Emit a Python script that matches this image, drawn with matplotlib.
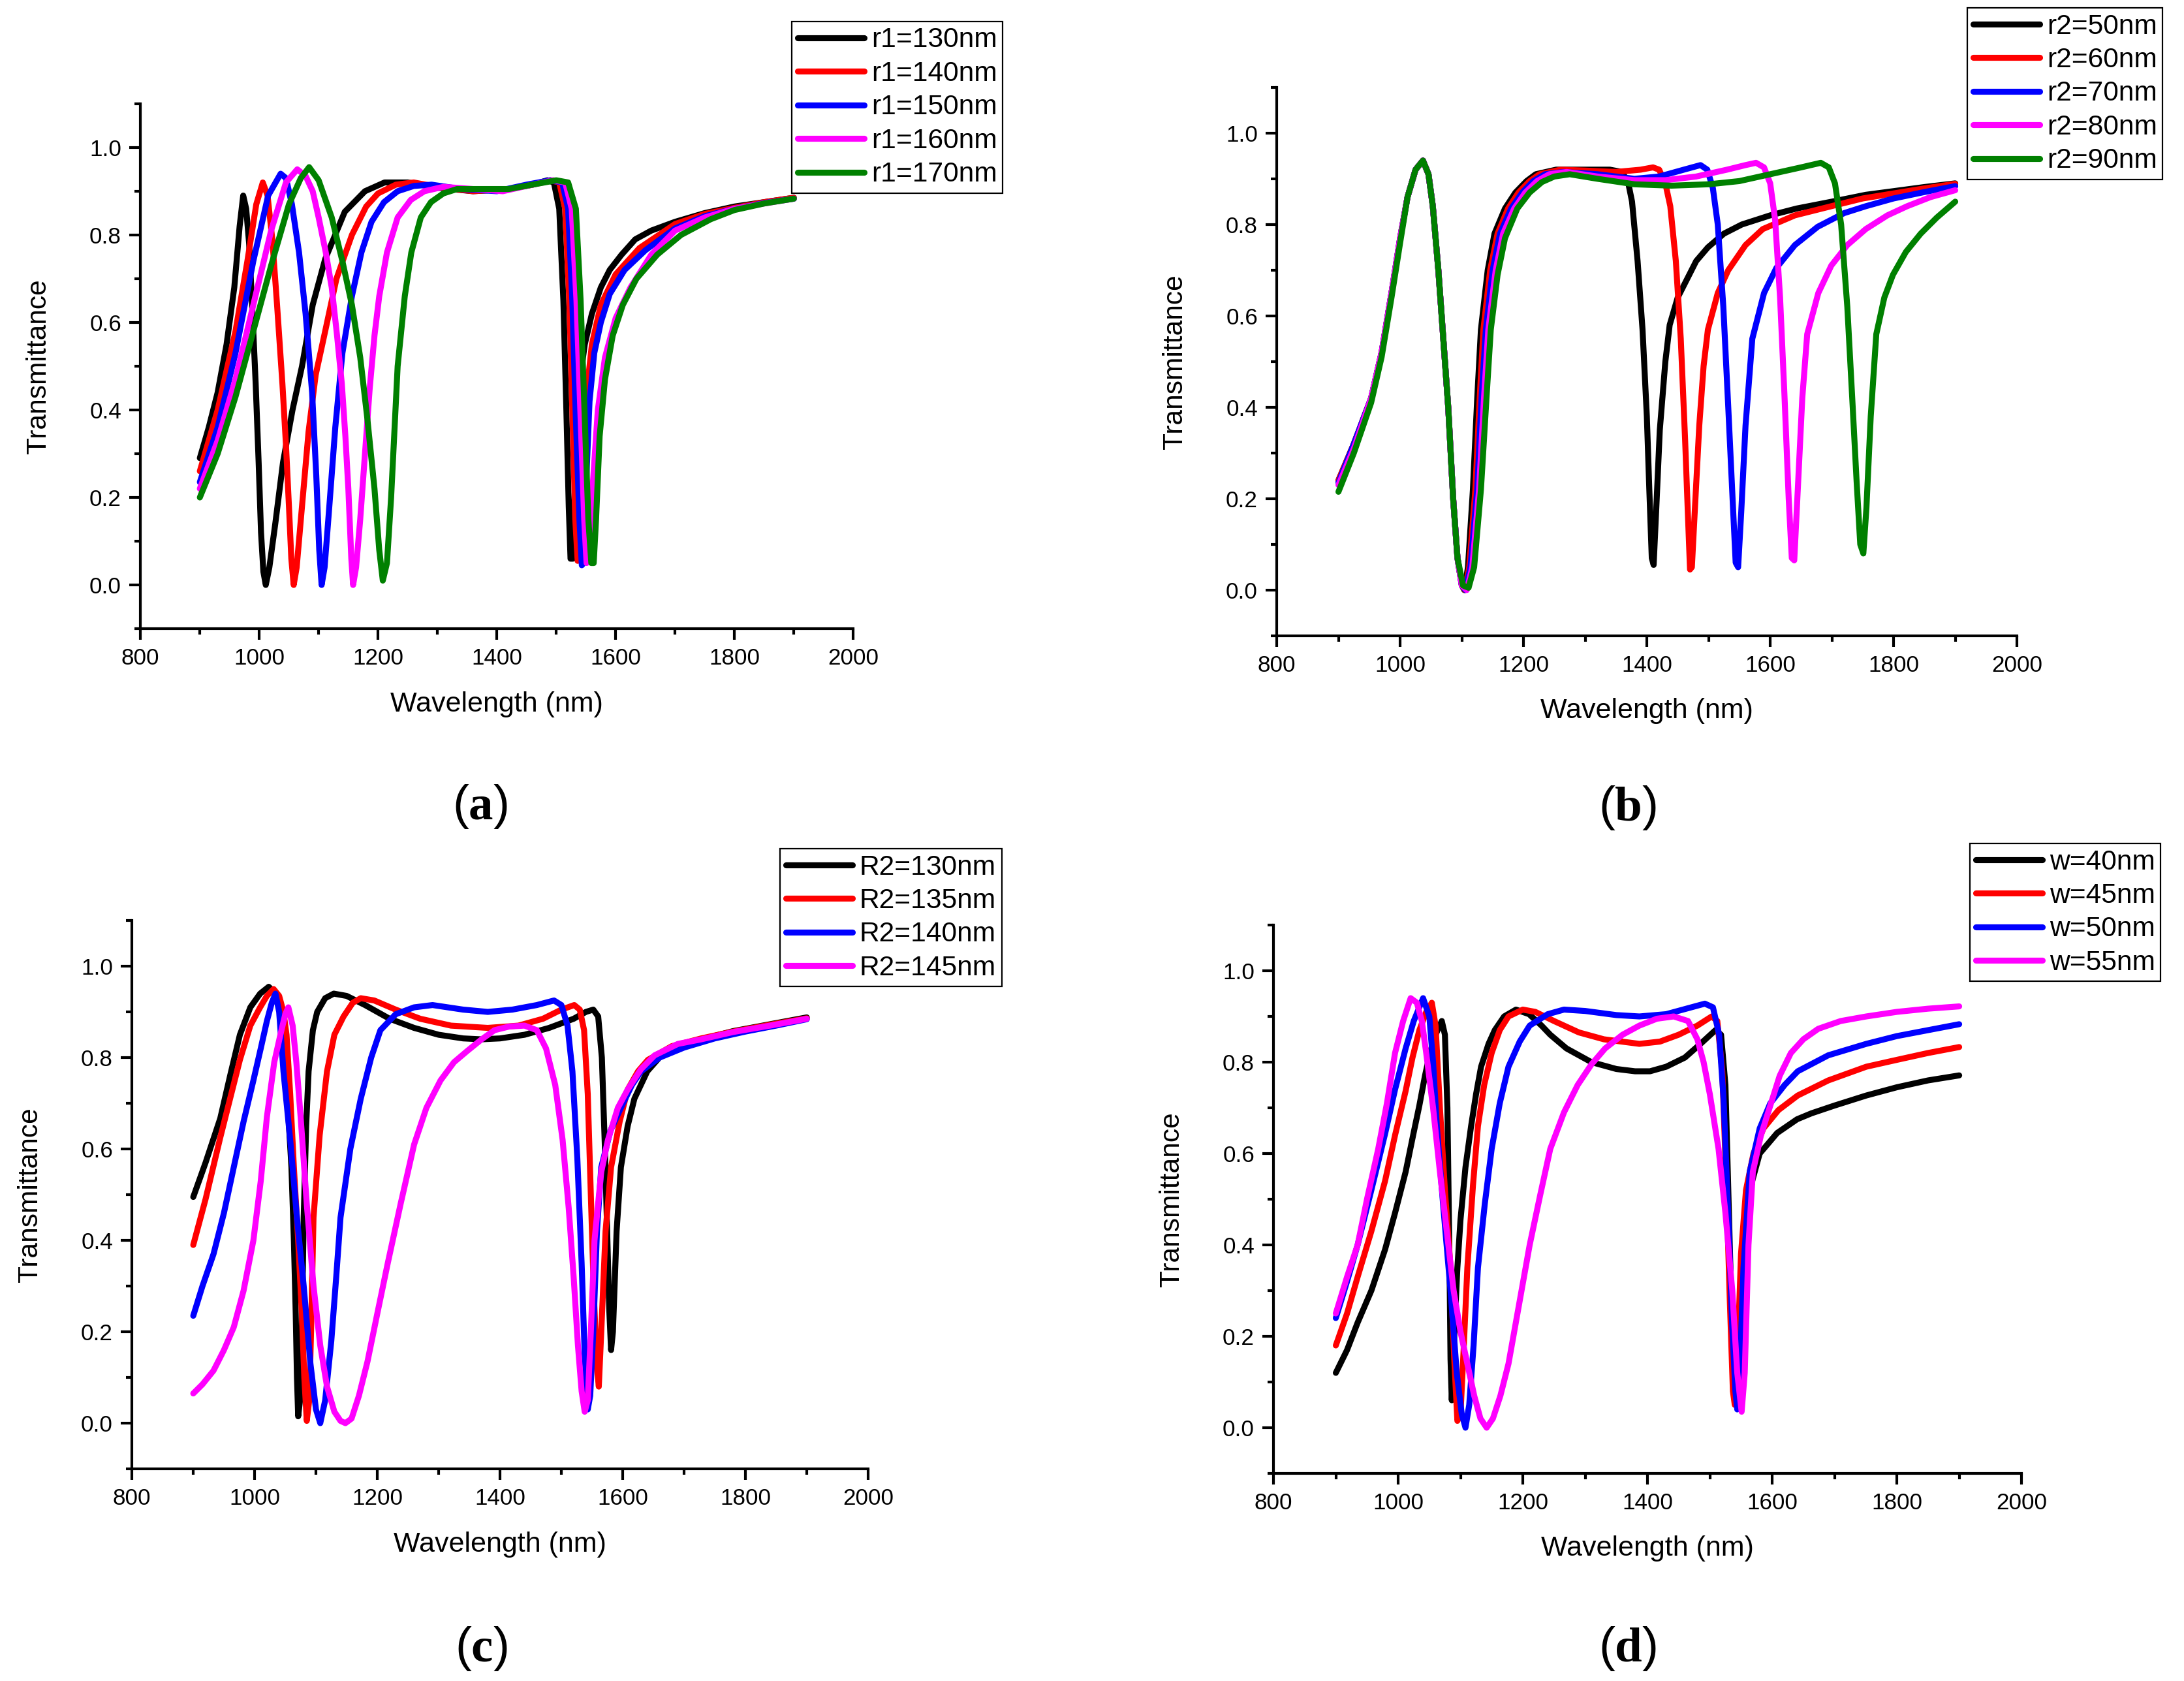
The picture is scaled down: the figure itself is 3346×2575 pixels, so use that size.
import numpy as np
import matplotlib
matplotlib.use("Agg")
import matplotlib.pyplot as plt
from matplotlib.ticker import MultipleLocator

plt.rcParams['font.family'] = ['Liberation Sans', 'DejaVu Sans']
plt.rcParams['mathtext.fontset'] = 'custom'
plt.rcParams['mathtext.rm'] = 'Liberation Serif'
plt.rcParams['mathtext.bf'] = 'Liberation Serif:bold'

colors = ['#000000', '#FF0000', '#0000FF', '#FF00FF', '#008000']

# ---------------- (a) r1 sweep ----------------
labels_a = ['r1=130nm', 'r1=140nm', 'r1=150nm', 'r1=160nm', 'r1=170nm']
wl_a_130 = [900, 915, 930, 945, 958, 967, 973, 978, 983, 988, 994, 999, 1003, 1007, 1011, 1017, 1027, 1040, 1056, 1072,
            1090, 1111, 1144, 1178, 1211, 1250, 1300, 1360, 1420, 1460, 1485, 1496, 1505, 1512, 1517, 1521, 1524, 1528,
            1533, 1540, 1548, 1560, 1575, 1590, 1610, 1633, 1660, 1700, 1750, 1800, 1850, 1900]
tr_a_130 = [0.29, 0.36, 0.44, 0.55, 0.68, 0.82, 0.89, 0.86, 0.78, 0.64, 0.46, 0.28, 0.12, 0.03, 0.0, 0.04, 0.14, 0.28, 0.40, 0.50,
            0.64, 0.745, 0.853, 0.90, 0.92, 0.92, 0.908, 0.90, 0.905, 0.915, 0.925, 0.92, 0.86, 0.65, 0.40, 0.18, 0.06, 0.06,
            0.30, 0.47, 0.55, 0.62, 0.68, 0.72, 0.755, 0.79, 0.81, 0.83, 0.85, 0.865, 0.875, 0.885]
wl_a_140 = [900, 930, 960, 980, 995, 1006, 1014, 1022, 1030, 1039, 1045, 1050, 1054, 1058, 1063, 1072, 1083, 1095, 1111,
            1130, 1156, 1180, 1200, 1230, 1260, 1300, 1360, 1420, 1460, 1490, 1505, 1515, 1522, 1528, 1532, 1536, 1540,
            1545, 1552, 1560, 1575, 1600, 1640, 1700, 1750, 1800, 1850, 1900]
tr_a_140 = [0.26, 0.40, 0.58, 0.74, 0.87, 0.92, 0.89, 0.79, 0.64, 0.46, 0.32, 0.18, 0.06, 0.0, 0.04, 0.18, 0.35, 0.48, 0.58,
            0.70, 0.80, 0.865, 0.895, 0.915, 0.92, 0.91, 0.90, 0.905, 0.915, 0.925, 0.92, 0.86, 0.65, 0.35, 0.15, 0.055, 0.06,
            0.28, 0.45, 0.55, 0.64, 0.71, 0.77, 0.825, 0.848, 0.862, 0.875, 0.885]
wl_a_150 = [900, 930, 960, 990, 1015, 1036, 1045, 1055, 1067, 1078, 1089, 1096, 1101, 1105, 1110, 1118, 1128, 1140, 1156,
            1172, 1189, 1210, 1233, 1260, 1290, 1340, 1400, 1450, 1490, 1510, 1520, 1527, 1533, 1539, 1543, 1546, 1550,
            1556, 1564, 1575, 1590, 1615, 1650, 1700, 1750, 1800, 1850, 1900]
tr_a_150 = [0.235, 0.36, 0.53, 0.74, 0.89, 0.94, 0.93, 0.87, 0.76, 0.62, 0.44, 0.25, 0.08, 0.0, 0.04, 0.18, 0.36, 0.53, 0.66,
            0.76, 0.83, 0.875, 0.90, 0.912, 0.915, 0.905, 0.90, 0.915, 0.925, 0.92, 0.86, 0.65, 0.38, 0.15, 0.045, 0.05,
            0.22, 0.42, 0.53, 0.60, 0.665, 0.72, 0.765, 0.815, 0.843, 0.86, 0.873, 0.883]
wl_a_160 = [900, 930, 960, 990, 1020, 1045, 1064, 1078, 1090, 1100, 1112, 1122, 1131, 1139, 1145, 1150, 1155, 1158, 1163,
            1170, 1178, 1186, 1194, 1202, 1215, 1233, 1255, 1278, 1310, 1360, 1410, 1450, 1495, 1515, 1526, 1534, 1541,
            1547, 1551, 1555, 1561, 1570, 1582, 1600, 1625, 1660, 1700, 1750, 1800, 1850, 1900]
tr_a_160 = [0.22, 0.33, 0.47, 0.64, 0.81, 0.92, 0.95, 0.935, 0.90, 0.84, 0.76, 0.68, 0.57, 0.46, 0.34, 0.22, 0.06, 0.0, 0.04,
            0.15, 0.30, 0.45, 0.57, 0.66, 0.76, 0.84, 0.88, 0.90, 0.91, 0.905, 0.90, 0.912, 0.925, 0.92, 0.86, 0.65, 0.38,
            0.15, 0.05, 0.06, 0.22, 0.40, 0.52, 0.61, 0.68, 0.755, 0.81, 0.84, 0.86, 0.872, 0.883]
wl_a_170 = [900, 930, 960, 990, 1020, 1050, 1070, 1084, 1100, 1122, 1140, 1156, 1170, 1182, 1194, 1202, 1208, 1215, 1222,
            1233, 1245, 1256, 1272, 1289, 1310, 1333, 1380, 1420, 1460, 1500, 1520, 1533, 1541, 1548, 1554, 1559, 1563,
            1567, 1573, 1582, 1595, 1612, 1635, 1670, 1710, 1760, 1800, 1850, 1900]
tr_a_170 = [0.20, 0.30, 0.43, 0.58, 0.73, 0.87, 0.93, 0.955, 0.925, 0.84, 0.74, 0.64, 0.52, 0.38, 0.22, 0.08, 0.01, 0.05, 0.20,
            0.50, 0.66, 0.76, 0.84, 0.875, 0.895, 0.905, 0.905, 0.905, 0.915, 0.925, 0.92, 0.86, 0.65, 0.38, 0.15, 0.05, 0.05,
            0.15, 0.34, 0.47, 0.57, 0.64, 0.70, 0.755, 0.80, 0.836, 0.857, 0.872, 0.883]

# ---------------- (b) r2 sweep ----------------
labels_b = ['r2=50nm', 'r2=60nm', 'r2=70nm', 'r2=80nm', 'r2=90nm']
wl_b_50 = [900, 925, 953, 970, 986, 1000, 1012, 1025, 1037, 1046, 1053, 1062, 1070, 1078, 1086, 1093, 1100, 1104, 1110,
           1118, 1125, 1131, 1142, 1153, 1170, 1187, 1205, 1220, 1253, 1300, 1340, 1360, 1370, 1376, 1385, 1393, 1400,
           1404, 1408, 1411, 1415, 1421, 1430, 1437, 1450, 1465, 1480, 1499, 1525, 1554, 1600, 1643, 1700, 1755, 1800,
           1850, 1900]
tr_b_50 = [0.24, 0.32, 0.42, 0.52, 0.65, 0.77, 0.86, 0.92, 0.94, 0.91, 0.84, 0.70, 0.55, 0.40, 0.20, 0.07, 0.01, 0.0, 0.05,
           0.22, 0.42, 0.57, 0.70, 0.78, 0.835, 0.87, 0.895, 0.91, 0.92, 0.92, 0.92, 0.915, 0.89, 0.85, 0.72, 0.57, 0.38,
           0.22, 0.07, 0.055, 0.17, 0.35, 0.50, 0.58, 0.64, 0.68, 0.72, 0.75, 0.78, 0.80, 0.82, 0.835, 0.85, 0.865, 0.873,
           0.882, 0.89]
wl_b_60 = [900, 925, 953, 970, 986, 1000, 1012, 1025, 1037, 1046, 1053, 1062, 1070, 1078, 1086, 1093, 1100, 1105, 1112,
           1122, 1129, 1135, 1146, 1158, 1175, 1192, 1210, 1226, 1260, 1300, 1350, 1390, 1410, 1420, 1430, 1438, 1447,
           1455, 1462, 1467, 1470, 1473, 1478, 1485, 1492, 1499, 1515, 1532, 1560, 1588, 1640, 1699, 1750, 1800, 1850,
           1900]
tr_b_60 = [0.24, 0.32, 0.42, 0.52, 0.65, 0.77, 0.86, 0.92, 0.94, 0.91, 0.84, 0.70, 0.55, 0.40, 0.20, 0.07, 0.01, 0.0, 0.05,
           0.22, 0.42, 0.57, 0.70, 0.78, 0.835, 0.87, 0.895, 0.91, 0.92, 0.918, 0.915, 0.92, 0.925, 0.92, 0.89, 0.84, 0.72,
           0.55, 0.33, 0.15, 0.045, 0.05, 0.18, 0.36, 0.49, 0.57, 0.65, 0.70, 0.755, 0.79, 0.82, 0.84, 0.857, 0.868, 0.879,
           0.889]
wl_b_70 = [900, 925, 953, 970, 986, 1000, 1012, 1025, 1037, 1046, 1053, 1062, 1070, 1078, 1086, 1093, 1100, 1106, 1114,
           1125, 1132, 1139, 1150, 1162, 1180, 1198, 1216, 1235, 1265, 1320, 1380, 1420, 1460, 1487, 1498, 1507, 1515,
           1524, 1532, 1539, 1544, 1548, 1553, 1560, 1571, 1590, 1610, 1640, 1677, 1720, 1755, 1800, 1850, 1900]
tr_b_70 = [0.235, 0.32, 0.42, 0.52, 0.65, 0.77, 0.86, 0.92, 0.94, 0.91, 0.84, 0.70, 0.55, 0.40, 0.20, 0.07, 0.01, 0.0, 0.05,
           0.22, 0.42, 0.57, 0.70, 0.78, 0.835, 0.87, 0.895, 0.91, 0.915, 0.91, 0.90, 0.905, 0.92, 0.93, 0.92, 0.88, 0.80,
           0.62, 0.40, 0.20, 0.06, 0.05, 0.17, 0.36, 0.55, 0.65, 0.705, 0.755, 0.795, 0.825, 0.84, 0.857, 0.871, 0.884]
wl_b_80 = [900, 925, 953, 970, 986, 1000, 1012, 1025, 1037, 1046, 1053, 1062, 1070, 1078, 1086, 1093, 1100, 1108, 1117,
           1128, 1136, 1143, 1155, 1167, 1185, 1203, 1222, 1242, 1270, 1320, 1380, 1430, 1480, 1530, 1560, 1577, 1590,
           1600, 1608, 1616, 1623, 1630, 1635, 1639, 1644, 1652, 1660, 1678, 1699, 1725, 1755, 1790, 1822, 1860, 1900]
tr_b_80 = [0.23, 0.31, 0.42, 0.52, 0.65, 0.77, 0.86, 0.92, 0.94, 0.91, 0.84, 0.70, 0.55, 0.40, 0.20, 0.07, 0.01, 0.0, 0.05,
           0.22, 0.42, 0.57, 0.70, 0.78, 0.835, 0.87, 0.895, 0.91, 0.915, 0.905, 0.897, 0.897, 0.905, 0.92, 0.93, 0.935, 0.925,
           0.89, 0.81, 0.64, 0.43, 0.20, 0.07, 0.065, 0.20, 0.42, 0.56, 0.65, 0.71, 0.755, 0.79, 0.82, 0.84, 0.86, 0.875]
wl_b_90 = [900, 925, 953, 970, 986, 1000, 1012, 1025, 1037, 1046, 1053, 1062, 1070, 1078, 1086, 1093, 1102, 1111, 1120,
           1131, 1140, 1147, 1158, 1170, 1190, 1210, 1230, 1250, 1275, 1320, 1380, 1440, 1500, 1550, 1600, 1650, 1682,
           1695, 1705, 1715, 1725, 1733, 1740, 1746, 1751, 1756, 1763, 1772, 1785, 1799, 1820, 1844, 1870, 1900]
tr_b_90 = [0.215, 0.30, 0.41, 0.51, 0.64, 0.76, 0.86, 0.92, 0.94, 0.91, 0.84, 0.70, 0.55, 0.40, 0.20, 0.07, 0.01, 0.005, 0.05,
           0.22, 0.42, 0.57, 0.69, 0.77, 0.835, 0.87, 0.893, 0.905, 0.91, 0.90, 0.888, 0.885, 0.888, 0.895, 0.91, 0.925, 0.935,
           0.925, 0.89, 0.80, 0.62, 0.42, 0.24, 0.10, 0.08, 0.18, 0.38, 0.56, 0.64, 0.69, 0.74, 0.78, 0.815, 0.85]

# ---------------- (c) R2 sweep ----------------
labels_c = ['R2=130nm', 'R2=135nm', 'R2=140nm', 'R2=145nm']
wl_c_130 = [900, 920, 944, 960, 976, 993, 1009, 1023, 1035, 1042, 1047, 1053, 1060, 1064, 1067, 1069, 1071, 1074, 1077,
            1080, 1084, 1088, 1095, 1102, 1115, 1129, 1150, 1180, 1220, 1260, 1300, 1340, 1369, 1400, 1440, 1480, 1520,
            1540, 1552, 1560, 1566, 1571, 1575, 1578, 1581, 1584, 1590, 1597, 1608, 1619, 1640, 1663, 1700, 1728, 1780,
            1840, 1900]
tr_c_130 = [0.495, 0.57, 0.667, 0.76, 0.85, 0.91, 0.94, 0.955, 0.94, 0.91, 0.86, 0.72, 0.56, 0.40, 0.24, 0.10, 0.015, 0.05,
            0.20, 0.45, 0.65, 0.77, 0.86, 0.90, 0.93, 0.94, 0.935, 0.915, 0.885, 0.865, 0.85, 0.842, 0.84, 0.842, 0.85,
            0.865, 0.885, 0.90, 0.905, 0.89, 0.80, 0.60, 0.40, 0.25, 0.16, 0.20, 0.42, 0.56, 0.65, 0.71, 0.77, 0.805,
            0.828, 0.84, 0.858, 0.873, 0.888]
wl_c_135 = [900, 920, 944, 960, 976, 993, 1009, 1020, 1031, 1040, 1047, 1052, 1058, 1064, 1071, 1077, 1081, 1085, 1089,
            1092, 1096, 1106, 1118, 1130, 1145, 1160, 1173, 1195, 1230, 1270, 1320, 1380, 1430, 1470, 1500, 1521, 1530,
            1537, 1543, 1548, 1553, 1558, 1561, 1565, 1572, 1581, 1595, 1608, 1625, 1641, 1680, 1728, 1780, 1840, 1900]
tr_c_135 = [0.39, 0.49, 0.625, 0.71, 0.795, 0.87, 0.91, 0.935, 0.95, 0.935, 0.90, 0.85, 0.72, 0.56, 0.40, 0.24, 0.10, 0.005,
            0.05, 0.20, 0.45, 0.63, 0.77, 0.85, 0.89, 0.92, 0.93, 0.925, 0.905, 0.885, 0.87, 0.865, 0.87, 0.885, 0.905,
            0.915, 0.905, 0.86, 0.72, 0.50, 0.28, 0.12, 0.08, 0.20, 0.42, 0.56, 0.66, 0.73, 0.77, 0.795, 0.825, 0.842,
            0.857, 0.872, 0.886]
wl_c_140 = [900, 915, 933, 950, 966, 982, 998, 1010, 1020, 1028, 1034, 1040, 1047, 1058, 1069, 1080, 1091, 1100, 1107,
            1115, 1125, 1133, 1140, 1156, 1173, 1190, 1205, 1230, 1260, 1290, 1340, 1380, 1420, 1460, 1488, 1500, 1510,
            1518, 1526, 1533, 1538, 1543, 1547, 1552, 1558, 1565, 1580, 1597, 1615, 1630, 1660, 1700, 1750, 1800, 1850,
            1900]
tr_c_140 = [0.235, 0.30, 0.37, 0.46, 0.56, 0.66, 0.75, 0.82, 0.88, 0.92, 0.94, 0.90, 0.77, 0.62, 0.45, 0.30, 0.13, 0.03, 0.0,
            0.05, 0.18, 0.32, 0.45, 0.60, 0.71, 0.80, 0.86, 0.895, 0.91, 0.915, 0.905, 0.90, 0.905, 0.915, 0.925, 0.915, 0.87,
            0.77, 0.58, 0.35, 0.15, 0.03, 0.06, 0.20, 0.42, 0.56, 0.64, 0.69, 0.74, 0.77, 0.80, 0.822, 0.842, 0.857, 0.87,
            0.884]
wl_c_145 = [900, 915, 933, 950, 966, 982, 998, 1010, 1020, 1032, 1042, 1050, 1055, 1062, 1068, 1075, 1085, 1096, 1107,
            1118, 1130, 1140, 1148, 1158, 1170, 1184, 1200, 1217, 1238, 1260, 1280, 1303, 1325, 1347, 1370, 1391, 1415,
            1440, 1460, 1475, 1490, 1502, 1512, 1520, 1527, 1533, 1538, 1543, 1548, 1554, 1565, 1576, 1592, 1608, 1630,
            1652, 1690, 1728, 1780, 1840, 1900]
tr_c_145 = [0.065, 0.085, 0.115, 0.16, 0.21, 0.29, 0.40, 0.53, 0.67, 0.79, 0.85, 0.895, 0.91, 0.87, 0.79, 0.67, 0.48, 0.30,
            0.17, 0.08, 0.025, 0.005, 0.0, 0.01, 0.06, 0.135, 0.24, 0.35, 0.48, 0.61, 0.69, 0.75, 0.79, 0.815, 0.84, 0.86,
            0.868, 0.87, 0.86, 0.82, 0.74, 0.62, 0.47, 0.32, 0.17, 0.07, 0.025, 0.05, 0.20, 0.40, 0.55, 0.62, 0.69, 0.73,
            0.775, 0.805, 0.83, 0.84, 0.856, 0.87, 0.885]

# ---------------- (d) w sweep ----------------
labels_d = ['w=40nm', 'w=45nm', 'w=50nm', 'w=55nm']
wl_d_40 = [900, 918, 935, 957, 979, 995, 1012, 1024, 1034, 1043, 1051, 1060, 1070, 1075, 1079, 1082, 1084, 1086, 1090,
           1095, 1100, 1108, 1117, 1125, 1133, 1145, 1155, 1170, 1189, 1210, 1230, 1244, 1270, 1310, 1350, 1380, 1404,
           1430, 1460, 1485, 1509, 1518, 1525, 1530, 1535, 1539, 1542, 1546, 1552, 1558, 1568, 1580, 1608, 1640, 1663,
           1700, 1751, 1800, 1850, 1900]
tr_d_40 = [0.12, 0.17, 0.23, 0.30, 0.39, 0.47, 0.56, 0.64, 0.705, 0.77, 0.82, 0.86, 0.89, 0.86, 0.70, 0.40, 0.15, 0.06, 0.20,
           0.35, 0.455, 0.57, 0.66, 0.73, 0.79, 0.84, 0.87, 0.90, 0.915, 0.905, 0.88, 0.86, 0.83, 0.80, 0.785, 0.78, 0.78,
           0.79, 0.81, 0.84, 0.87, 0.86, 0.75, 0.50, 0.25, 0.10, 0.05, 0.15, 0.34, 0.455, 0.54, 0.60, 0.645, 0.675, 0.688,
           0.705, 0.727, 0.745, 0.76, 0.771]
wl_d_45 = [900, 918, 935, 957, 979, 995, 1012, 1023, 1034, 1045, 1054, 1060, 1067, 1075, 1084, 1090, 1095, 1100, 1105,
           1111, 1120, 1128, 1138, 1150, 1163, 1177, 1200, 1220, 1250, 1290, 1330, 1387, 1420, 1450, 1480, 1503, 1512,
           1520, 1526, 1532, 1537, 1540, 1545, 1550, 1558, 1570, 1586, 1610, 1641, 1690, 1751, 1800, 1850, 1900]
tr_d_45 = [0.18, 0.25, 0.33, 0.43, 0.54, 0.64, 0.737, 0.81, 0.87, 0.91, 0.93, 0.88, 0.70, 0.52, 0.35, 0.15, 0.015, 0.03,
           0.17, 0.35, 0.53, 0.66, 0.75, 0.82, 0.87, 0.90, 0.915, 0.91, 0.89, 0.865, 0.85, 0.84, 0.845, 0.86, 0.88, 0.90,
           0.89, 0.78, 0.55, 0.28, 0.08, 0.05, 0.18, 0.38, 0.52, 0.60, 0.655, 0.695, 0.727, 0.76, 0.79, 0.805, 0.82, 0.833]
wl_d_50 = [900, 918, 935, 957, 979, 995, 1012, 1025, 1040, 1050, 1056, 1062, 1072, 1084, 1094, 1102, 1108, 1114, 1121,
           1128, 1139, 1150, 1163, 1177, 1195, 1211, 1240, 1266, 1300, 1350, 1387, 1430, 1465, 1492, 1505, 1515, 1522,
           1530, 1536, 1541, 1544, 1548, 1554, 1564, 1580, 1597, 1620, 1641, 1690, 1751, 1800, 1850, 1900]
tr_d_50 = [0.24, 0.32, 0.40, 0.52, 0.643, 0.74, 0.83, 0.89, 0.94, 0.90, 0.80, 0.66, 0.49, 0.30, 0.12, 0.03, 0.0, 0.05, 0.18,
           0.35, 0.49, 0.61, 0.71, 0.79, 0.845, 0.88, 0.905, 0.915, 0.912, 0.903, 0.90, 0.905, 0.918, 0.928, 0.92, 0.86,
           0.72, 0.45, 0.22, 0.08, 0.04, 0.12, 0.35, 0.56, 0.655, 0.71, 0.75, 0.78, 0.815, 0.84, 0.857, 0.87, 0.883]
wl_d_55 = [900, 918, 935, 950, 968, 982, 995, 1008, 1020, 1030, 1038, 1045, 1056, 1067, 1078, 1089, 1100, 1111, 1122,
           1132, 1142, 1152, 1164, 1177, 1194, 1211, 1228, 1244, 1266, 1288, 1310, 1332, 1360, 1387, 1415, 1442, 1465,
           1480, 1490, 1500, 1514, 1525, 1536, 1544, 1551, 1556, 1562, 1569, 1582, 1597, 1612, 1630, 1650, 1674, 1710,
           1751, 1800, 1850, 1900]
tr_d_55 = [0.25, 0.33, 0.40, 0.50, 0.61, 0.71, 0.82, 0.89, 0.94, 0.93, 0.89, 0.82, 0.70, 0.56, 0.43, 0.30, 0.21, 0.14, 0.07,
           0.02, 0.0, 0.02, 0.07, 0.14, 0.27, 0.40, 0.51, 0.61, 0.69, 0.75, 0.795, 0.83, 0.86, 0.88, 0.895, 0.90, 0.89,
           0.85, 0.80, 0.73, 0.61, 0.47, 0.30, 0.12, 0.035, 0.12, 0.40, 0.56, 0.64, 0.705, 0.77, 0.82, 0.85, 0.873, 0.89,
           0.90, 0.91, 0.917, 0.922]

panels = [
    dict(pos=[0.0643, 0.6260, 0.3264, 0.3123], tag='a', labels=labels_a,
         data=[(wl_a_130, tr_a_130), (wl_a_140, tr_a_140), (wl_a_150, tr_a_150), (wl_a_160, tr_a_160), (wl_a_170, tr_a_170)],
         leg=(1213, 33), lab=(735, 1235)),
    dict(pos=[0.5846, 0.6218, 0.3389, 0.3262], tag='b', labels=labels_b,
         data=[(wl_b_50, tr_b_50), (wl_b_60, tr_b_60), (wl_b_70, tr_b_70), (wl_b_80, tr_b_80), (wl_b_90, tr_b_90)],
         leg=(3014, 12), lab=(2494, 1237)),
    dict(pos=[0.0604, 0.1262, 0.3371, 0.3262], tag='c', labels=labels_c,
         data=[(wl_c_130, tr_c_130), (wl_c_135, tr_c_135), (wl_c_140, tr_c_140), (wl_c_145, tr_c_145)],
         leg=(1195, 1300), lab=(737, 2526)),
    dict(pos=[0.5831, 0.1235, 0.3425, 0.3262], tag='d', labels=labels_d,
         data=[(wl_d_40, tr_d_40), (wl_d_45, tr_d_45), (wl_d_50, tr_d_50), (wl_d_55, tr_d_55)],
         leg=(3018, 1292), lab=(2494, 2526)),
]

W, H = 3346, 2575
fig = plt.figure(figsize=(W / 200, H / 200), dpi=200)

for p in panels:
    ax = fig.add_axes(p['pos'])
    for (wl, tr), lab, c in zip(p['data'], p['labels'], colors):
        ax.plot(wl, tr, color=c, lw=3.3, label=lab, solid_joinstyle='round', solid_capstyle='round')
    ax.set_xlim(800, 2000)
    ax.set_ylim(-0.1, 1.1)
    ax.xaxis.set_major_locator(MultipleLocator(200))
    ax.xaxis.set_minor_locator(MultipleLocator(100))
    ax.yaxis.set_minor_locator(MultipleLocator(0.1))
    ax.set_yticks([0.0, 0.2, 0.4, 0.6, 0.8, 1.0])
    ax.yaxis.set_major_formatter(matplotlib.ticker.FormatStrFormatter('%.1f'))
    for s in ['top', 'right']:
        ax.spines[s].set_visible(False)
    for s in ['left', 'bottom']:
        ax.spines[s].set_linewidth(1.5)
    ax.tick_params(which='major', direction='out', length=6, width=1.5, labelsize=12.6, pad=4.5)
    ax.tick_params(which='minor', direction='out', length=3.2, width=1.5)
    ax.set_xlabel('Wavelength (nm)', fontsize=15.5, labelpad=12)
    ax.set_ylabel('Transmittance', fontsize=15.3, labelpad=21)
    lx, ly = p['leg']
    leg = ax.legend(loc='upper left', bbox_to_anchor=(lx / W, 1 - ly / H), bbox_transform=fig.transFigure,
                    borderaxespad=0, fontsize=15.3, handlelength=2.42, handletextpad=0.25, labelspacing=0.27,
                    borderpad=0.2, fancybox=False, framealpha=1)
    leg.get_frame().set_edgecolor('black')
    leg.get_frame().set_linewidth(0.8)
    tx, ty = p['lab']
    fig.text(tx / W, 1 - ty / H, '($\\mathbf{%s}$)' % p['tag'], fontsize=27, ha='center', va='center')

fig.savefig('out.png', dpi=200)
